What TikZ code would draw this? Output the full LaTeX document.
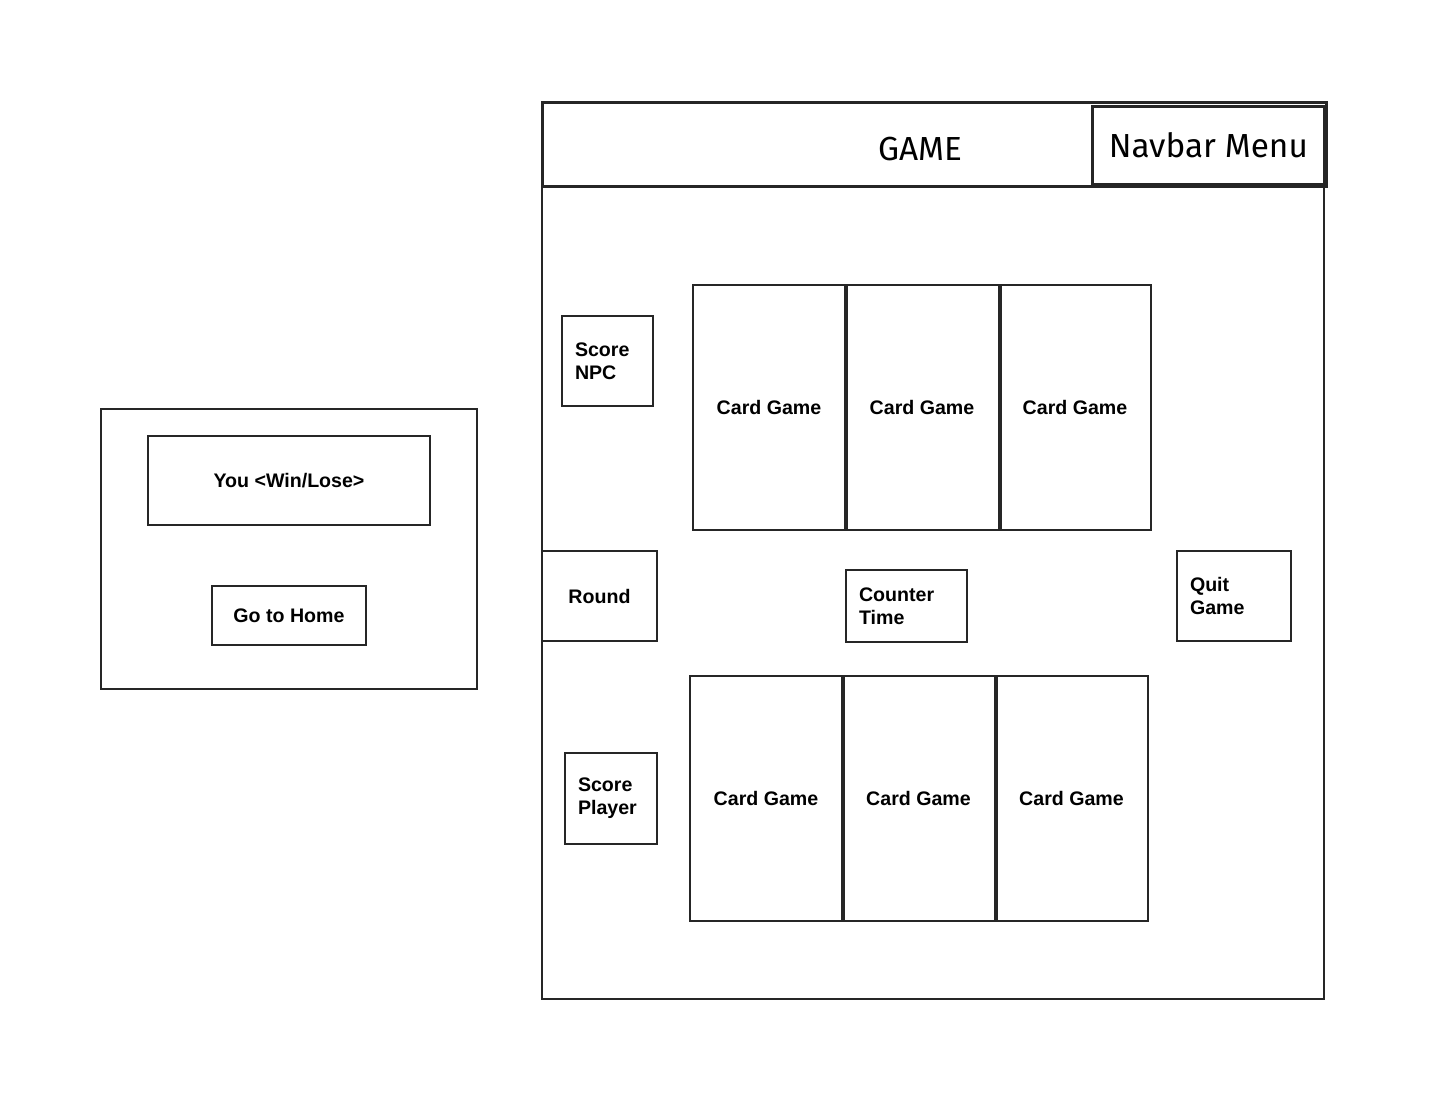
\documentclass[tikz,border=0pt]{standalone}
\usepackage{fontspec}
\setmainfont{Liberation Sans}
\newfontfamily\handfont{Fira Sans}
\begin{document}
\begin{tikzpicture}[x=0.75pt,y=-0.75pt,
  box/.style={draw=black!85,line width=1.5pt,rectangle,inner sep=0pt,anchor=north west,font=\fontsize{14.7}{17}\selectfont\bfseries},
  lbox/.style={box,align=left,inner xsep=9.75pt},
  hand/.style={font=\handfont\fontsize{25}{28}\selectfont},
  seam/.style={draw=black!85,line width=2.8pt}]
\useasboundingbox (0,0) rectangle (1445,1099);
% main game frame
\node[box,minimum width={782*0.75pt},minimum height={813*0.75pt}] (body) at (541,185) {};
\node[box,line width=2.2pt,minimum width={784*0.75pt},minimum height={84*0.75pt}] (header) at (541,101) {};
\node[hand] (game) at (920,149) {GAME};
\node[box,line width=2pt,hand,minimum width={232*0.75pt},minimum height={78*0.75pt}] (nav) at (1091,105) {Navbar Menu};
% score npc
\node[lbox,minimum width={91*0.75pt},minimum height={90*0.75pt},text width={65*0.75pt}] (snpc) at (561,315) {Score\\NPC};
% top cards
\node[box,minimum width={152*0.75pt},minimum height={245*0.75pt}] (c1) at (692,284) {Card Game};
\node[box,minimum width={154*0.75pt},minimum height={245*0.75pt}] (c2) at (844,284) {Card Game};
\node[box,minimum width={152*0.75pt},minimum height={245*0.75pt}] (c3) at (998,284) {Card Game};
\draw[seam] (c1.north east) -- (c1.south east);
\draw[seam] (c2.north east) -- (c2.south east);
% middle row
\node[box,minimum width={115*0.75pt},minimum height={90*0.75pt}] (round) at (541,550) {Round};
\node[lbox,minimum width={121*0.75pt},minimum height={72*0.75pt},text width={95*0.75pt}] (ctime) at (845,569) {Counter\\Time};
\node[lbox,minimum width={114*0.75pt},minimum height={90*0.75pt},text width={88*0.75pt}] (quit) at (1176,550) {Quit\\Game};
% score player
\node[lbox,minimum width={92*0.75pt},minimum height={91*0.75pt},text width={66*0.75pt}] (splayer) at (564,752) {Score\\Player};
% bottom cards
\node[box,minimum width={152*0.75pt},minimum height={245*0.75pt}] (c4) at (689,675) {Card Game};
\node[box,minimum width={153*0.75pt},minimum height={245*0.75pt}] (c5) at (841,675) {Card Game};
\node[box,minimum width={153*0.75pt},minimum height={245*0.75pt}] (c6) at (994,675) {Card Game};
\draw[seam] (c4.north east) -- (c4.south east);
\draw[seam] (c5.north east) -- (c5.south east);
% result screen
\node[box,minimum width={376*0.75pt},minimum height={280*0.75pt}] (result) at (100,408) {};
\node[box,minimum width={282*0.75pt},minimum height={89*0.75pt}] (win) at (147,435) {You <Win/Lose>};
\node[box,minimum width={154*0.75pt},minimum height={59*0.75pt}] (home) at (211,585) {Go to Home};
\end{tikzpicture}
\end{document}
